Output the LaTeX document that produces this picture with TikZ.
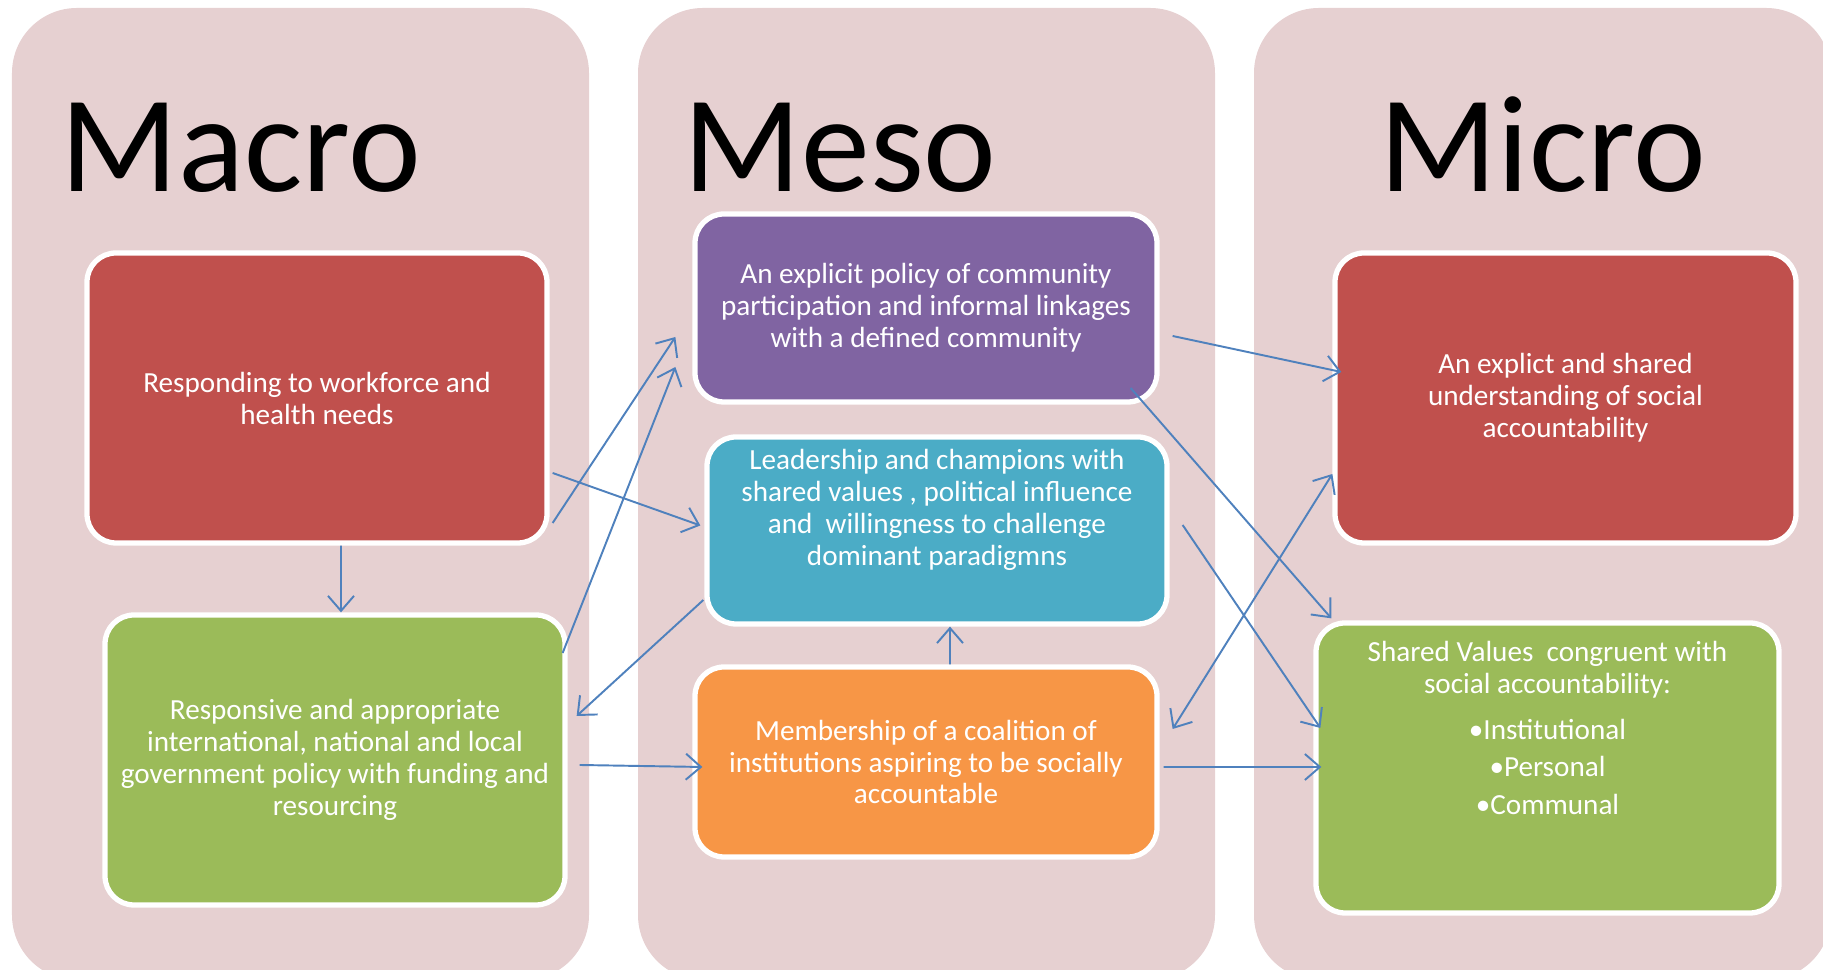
\documentclass[tikz,border=0pt]{standalone}
\usepackage{fontspec}
\setmainfont{Carlito}
\usetikzlibrary{arrows.meta}
\usetikzlibrary{calc}

\definecolor{panelpink}{RGB}{230,208,209}
\definecolor{boxred}{RGB}{192,80,77}
\definecolor{boxgreen}{RGB}{155,187,89}
\definecolor{boxpurple}{RGB}{128,100,162}
\definecolor{boxblue}{RGB}{75,172,198}
\definecolor{boxorange}{RGB}{247,150,70}
\definecolor{linkblue}{RGB}{79,129,189}

\begin{document}
\begin{tikzpicture}[>={Straight Barb[length=1.5mm,width=2.6mm]},
    panel/.style={fill=panelpink, rounded corners=6.5mm},
    title/.style={anchor=base west, inner sep=0pt, font=\fontsize{39.2}{39.2}\selectfont},
    box/.style={draw=white, line width=1.5pt, rounded corners=2.9mm, minimum width=4.6cm,
      inner sep=1mm, align=center, text=white, font=\fontsize{8.3}{9.1}\selectfont},
    boxtext/.style={inner sep=0pt, align=center, text=white, font=\fontsize{8.3}{9.1}\selectfont},
    link/.style={draw=linkblue, line width=0.55pt}]
      \clip (0,0) rectangle (18.23,9.70);

      \fill[panel] (0.12,-0.1) rectangle (5.89,9.62);
      \fill[panel] (6.38,-0.1) rectangle (12.15,9.62);
      \fill[panel] (12.54,-0.1) rectangle (18.31,9.62);

      \node[title] (macro) at (0.60,7.78) {Macro};
      \node[title] (meso)  at (6.83,7.78) {Meso};
      \node[title] (micro) at (13.79,7.78) {Micro};

      % macro level
      \node[box, fill=boxred, minimum height=2.9cm] (mred) at (3.17,5.72)
        {Responding to workforce and\\health needs};
      \node[box, fill=boxgreen, minimum height=2.9cm] (mgreen) at (3.35,2.10)
        {Responsive and appropriate\\international, national and local\\government policy with funding and\\resourcing};

      % meso level
      \node[box, fill=boxpurple, minimum width=4.62cm, minimum height=1.88cm] (pur) at (9.26,6.62)
        {An explicit policy of community\\participation and informal linkages\\with a defined community};
      \node[box, fill=boxblue, minimum height=1.87cm] (blu) at (9.37,4.395) {};
      \node[boxtext] (blutext) at ([yshift=2.1mm]blu.center)
        {Leadership and champions with\\shared values , political influence\\and\ \ willingness to challenge\\dominant paradigmns};
      \node[box, fill=boxorange, minimum width=4.62cm, minimum height=1.9cm] (ora) at (9.26,2.08)
        {Membership of a coalition of\\institutions aspiring to be socially\\accountable};

      % micro level
      \node[box, fill=boxred, minimum width=4.61cm, minimum height=2.9cm] (ured) at (15.655,5.72)
        {An explict and shared\\understanding of social\\accountability};
      \node[box, fill=boxgreen, minimum width=4.63cm, minimum height=2.9cm] (ugreen) at (15.475,2.02) {};
      \node[boxtext] (ugreentext) at ([yshift=4mm]ugreen.center)
        {Shared Values\ \ congruent with\\social accountability:\\[1.4mm]•Institutional\\[0.6mm]•Personal\\[0.6mm]•Communal};

      % links
      \draw[link,->] ([xshift=2.4mm]mred.south) -- ([xshift=0.6mm]mgreen.north);
      \draw[link,->] ([shift={(0.3mm,-12.5mm)}]mred.east) -- ([shift={(-1.7mm,-2.9mm)}]pur.west);
      \draw[link,->] ([shift={(0.3mm,-7.5mm)}]mred.east) -- ([shift={(-0.4mm,0.5mm)}]blu.west);
      \draw[link,->] ([shift={(-0.5mm,10.7mm)}]mgreen.east) -- ([shift={(-1.7mm,-5.9mm)}]pur.west);
      \draw[link,->] ([shift={(-0.1mm,-6.95mm)}]blu.west) -- ([shift={(0.9mm,4.4mm)}]mgreen.east);
      \draw[link,->] ([shift={(1.2mm,-0.5mm)}]mgreen.east) -- ([shift={(1mm,-0.5mm)}]ora.west);
      \draw[link,->] ([xshift=2.4mm]ora.north) -- ([xshift=1.3mm]blu.south);
      \draw[link,->] ([shift={(1.3mm,-2.8mm)}]pur.east) -- ([shift={(0.9mm,2.6mm)}]ured.west);
      \draw[link,->] ([shift={(-2.9mm,-8mm)}]pur.east) -- ([shift={(1.8mm,0.2mm)}]ugreen.north west);
      \draw[link,->] ([shift={(1.3mm,0.55mm)}]blu.east) -- ([shift={(0.7mm,4mm)}]ugreen.west);
      \draw[link,<->] ([shift={(1.3mm,3.3mm)}]ora.east) -- ([shift={(0mm,-7.6mm)}]ured.west);
      \draw[link,->] ([shift={(0.4mm,-0.5mm)}]ora.east) -- ([shift={(0.8mm,0.1mm)}]ugreen.west);
    \end{tikzpicture}
\end{document}
